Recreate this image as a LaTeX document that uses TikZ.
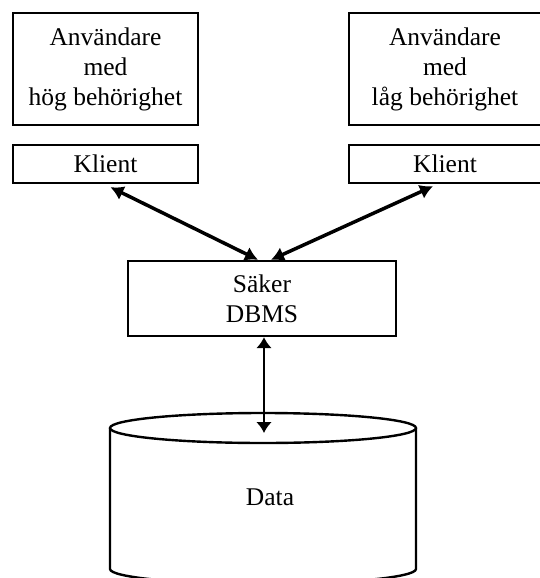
\documentclass[tikz,border=0pt]{standalone}
\usepackage{fontspec}
\setmainfont{Liberation Serif}
\usetikzlibrary{arrows.meta}

\tikzset{
	box/.style={draw=black, line width=2.4pt, inner sep=0pt, align=center, font=\fontsize{25.5}{30}\selectfont},
	link/.style={line width=3.5pt, {Latex[length=13pt,width=15pt]}-{Latex[length=13pt,width=15pt]}},
	dblink/.style={line width=2.5pt, {Latex[length=11pt,width=16pt]}-{Latex[length=11pt,width=16pt]}}
}

\begin{document}
\begin{tikzpicture}[x=1pt, y=-1pt]
	\useasboundingbox (0,0) rectangle (539,578);

	\node[box, minimum width=185, minimum height=112] (userhi) at (105.5,69) {Användare\\med\\hög behörighet};
	\node[box, minimum width=192, minimum height=112] (userlo) at (445,69) {Användare\\med\\låg behörighet};
	\node[box, minimum width=185, minimum height=38] (klienthi) at (105.5,164) {Klient};
	\node[box, minimum width=192, minimum height=38] (klientlo) at (445,164) {Klient};
	\node[box, minimum width=268, minimum height=75] (dbms) at (262,298.5) {Säker\\DBMS};

	% databas
	\draw[line width=2.4pt] (263,428) ellipse [x radius=153pt, y radius=15pt];
	\draw[line width=2.4pt] (110,428) -- (110,569) arc [start angle=180, end angle=360, x radius=153pt, y radius=15pt] -- (416,428);
	\node[font=\fontsize{25.5}{30}\selectfont] (data) at (270,497) {Data};
	\coordinate (datatop) at (264,433);

	\draw[link] ([xshift=5pt, yshift=-3pt]klienthi.south) -- ([xshift=-4pt]dbms.north);
	\draw[link] ([xshift=-12pt, yshift=-2pt]klientlo.south) -- ([xshift=9pt]dbms.north);
	\draw[dblink] ([xshift=2pt]dbms.south) -- (datatop);

\end{tikzpicture}
\end{document}
